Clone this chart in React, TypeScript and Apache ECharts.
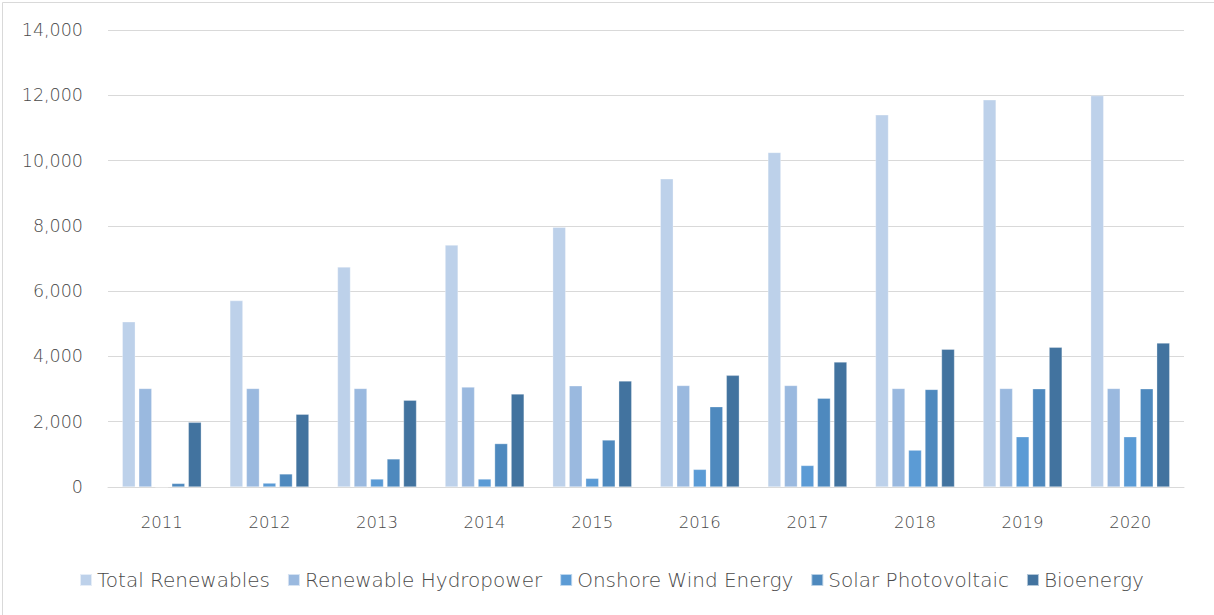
import React, { useEffect, useRef } from "react";
import * as echarts from "echarts";

const years = ["2011", "2012", "2013", "2014", "2015", "2016", "2017", "2018", "2019", "2020"];
const seriesNames = ["Total Renewables", "Renewable Hydropower", "Onshore Wind Energy", "Solar Photovoltaic", "Bioenergy"];
const totalRenewables = [5060, 5710, 6740, 7410, 7960, 9440, 10250, 11400, 11860, 11990];
const hydropower = [3020, 3020, 3020, 3060, 3100, 3110, 3110, 3020, 3020, 3020];
const onshoreWind = [0, 120, 245, 245, 265, 540, 660, 1130, 1540, 1540];
const solarPV = [110, 400, 860, 1330, 1440, 2460, 2720, 2990, 3010, 3010];
const bioenergy = [1980, 2230, 2660, 2850, 3250, 3420, 3830, 4220, 4280, 4410];
const yTicks = [0, 2000, 4000, 6000, 8000, 10000, 12000, 14000];

const colors = ["#BDD1EA", "#9AB9DF", "#5B9BD5", "#4E89BE", "#42739F"];
const FONT = "DejaVu Sans";
const TEXT = "#4A4A4A";

export default function App() {
  const ref = useRef<HTMLDivElement>(null);
  useEffect(() => {
    document.body.style.margin = "0";
    const chart = echarts.init(ref.current!, null, { renderer: "svg" });
    const data = [totalRenewables, hydropower, onshoreWind, solarPV, bioenergy];
    chart.setOption({
      animation: false,
      backgroundColor: "#ffffff",
      color: colors,
      graphic: [
        {
          type: "rect",
          left: 0,
          top: 0,
          shape: { x: 0.5, y: 0.5, width: 1212, height: 613 },
          style: { fill: "none", stroke: "#D9D9D9", lineWidth: 1 },
          silent: true,
        },
      ],
      grid: { left: 108, right: 30, top: 30, bottom: 128, containLabel: false },
      legend: {
        bottom: 20,
        left: 74,
        itemWidth: 12,
        itemHeight: 12,
        itemGap: 17,
        icon: "rect",
        textStyle: { fontFamily: FONT, fontSize: 20, fontWeight: 200, color: TEXT },
        data: seriesNames,
      },
      xAxis: {
        type: "category",
        data: years,
        axisLine: { lineStyle: { color: "#D9D9D9", width: 1 } },
        axisTick: { show: false },
        axisLabel: { fontFamily: FONT, fontSize: 16.5, fontWeight: 200, color: TEXT, margin: 27 },
      },
      yAxis: {
        type: "value",
        min: 0,
        max: yTicks[yTicks.length - 1],
        interval: 2000,
        axisLine: { show: false },
        axisTick: { show: false },
        splitLine: { lineStyle: { color: "#D9D9D9", width: 1 } },
        axisLabel: {
          fontFamily: FONT,
          fontSize: 17.5,
          fontWeight: 200,
          color: TEXT,
          margin: 25,
          formatter: (v: number) => v.toLocaleString("en-US"),
        },
      },
      series: seriesNames.map((name, i) => ({
        name,
        type: "bar",
        data: data[i],
        barWidth: 13,
        barGap: "27%",
        itemStyle: { color: colors[i], borderColor: "rgba(255,255,255,0.6)", borderWidth: 0.5 },
      })),
    });
    return () => chart.dispose();
  }, []);
  return <div ref={ref} style={{ width: 1214, height: 615 }} />;
}
